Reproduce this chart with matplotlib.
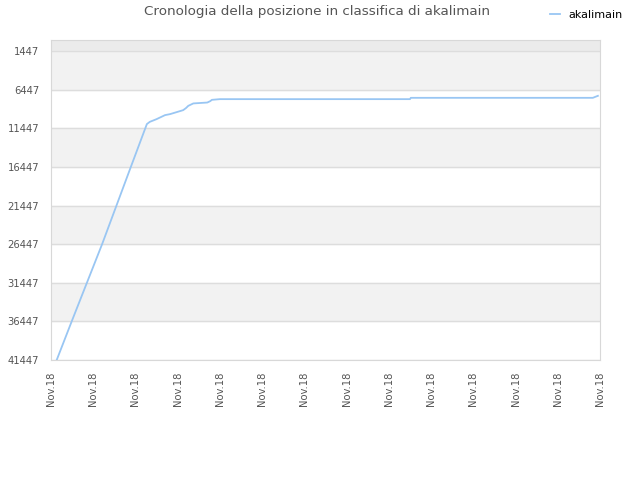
import numpy as np
import matplotlib.pyplot as plt

# ranking history (x in tick units, rank values)
days = [0.135, 0.49, 0.85, 1.21, 1.55, 1.89, 2.27, 2.34, 2.50, 2.70, 2.82,
        3.13, 3.20, 3.25, 3.37, 3.70, 3.77, 3.81, 4.0, 8.5, 8.52, 12.83, 12.95]
rank = [41447, 36447, 31447, 26447, 21447, 16447, 10890, 10600, 10250, 9730, 9600,
        9085, 8800, 8530, 8215, 8100, 7920, 7750, 7660, 7660, 7490, 7490, 7230]

tick_labels = ["Nov.18"] * 14
y_ticks = [1447, 6447, 11447, 16447, 21447, 26447, 31447, 36447, 41447]

fig = plt.figure(figsize=(6.4, 4.8), dpi=100)
ax = fig.add_axes([51 / 640, 120 / 480, 549 / 640, 320 / 480])

# alternating bands
ax.axhspan(0, y_ticks[0], color="#ebebeb", zorder=0)
for i in range(0, len(y_ticks) - 1, 2):
    ax.axhspan(y_ticks[i], y_ticks[i + 1], color="#f2f2f2", zorder=0)
for y in y_ticks:
    ax.axhline(y, color="#dddddd", lw=1, zorder=1)

ax.plot(days, rank, color="#99c6f3", lw=1.3, label="akalimain", zorder=3)

ax.set_xlim(0, 13)
ax.set_ylim(41447, 0)
ax.set_yticks(y_ticks)
ax.set_yticklabels([str(v) for v in y_ticks], fontsize=8, color="#555555",
                   fontstretch="condensed")
ax.set_xticks(np.arange(len(tick_labels)))
ax.set_xticklabels(tick_labels, rotation=90, fontsize=8, color="#555555",
                   fontstretch="condensed")
ax.tick_params(length=0, pad=8.5)
for s in ax.spines.values():
    s.set_color("#d8d8d8")

fig.text(0.496, 0.975, "Cronologia della posizione in classifica di akalimain",
         ha="center", va="center", fontsize=9.7, color="#555555")
fig.legend(loc="upper right", bbox_to_anchor=(0.988, 1.0), frameon=False,
           fontsize=8, handlelength=0.9, handletextpad=0.7)

fig.savefig("out.png", dpi=100)
